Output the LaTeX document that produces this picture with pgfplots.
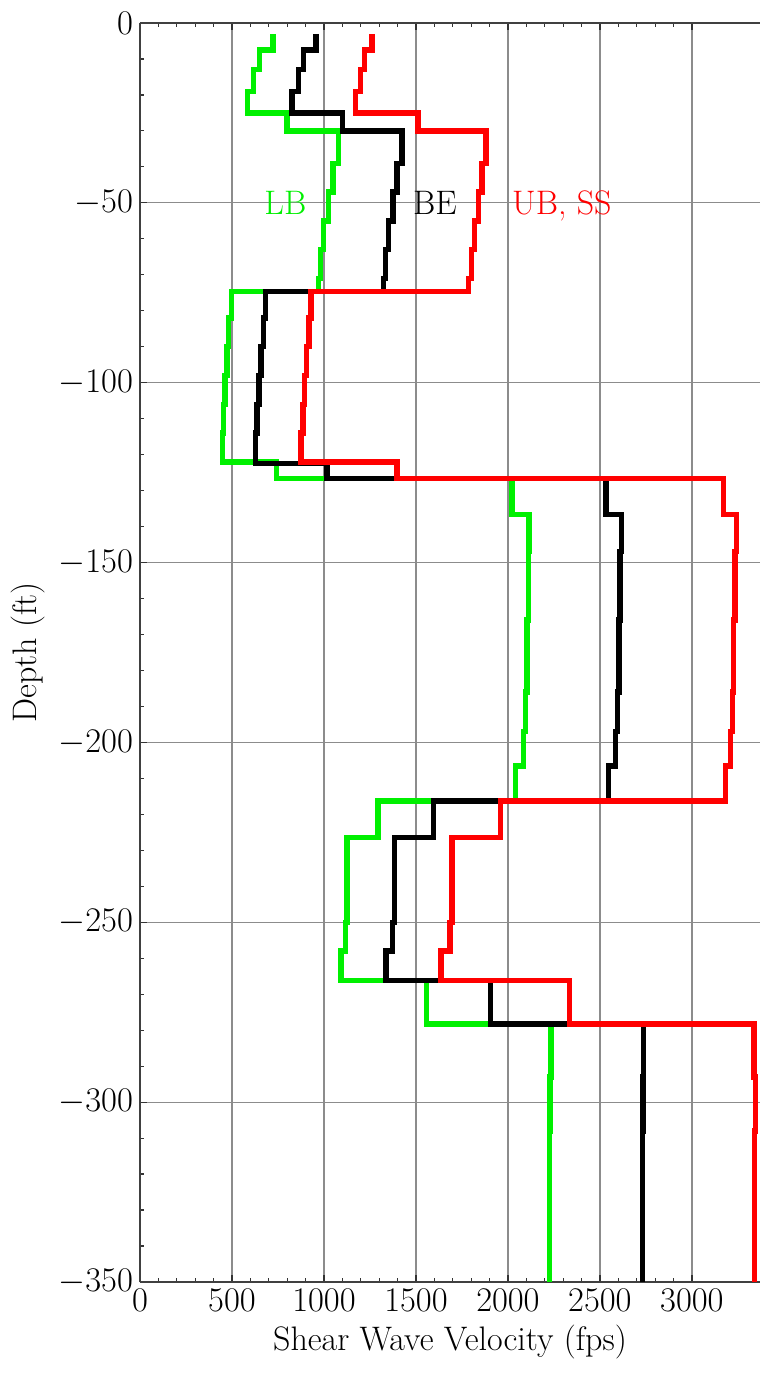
\documentclass[border=0pt]{standalone}
\usepackage{pgfplots}
\pgfplotsset{compat=1.18}
\definecolor{lbgreen}{RGB}{0,240,0}
\definecolor{ubred}{RGB}{255,0,0}
\definecolor{gridgray}{RGB}{140,140,140}
\begin{document}
\begin{tikzpicture}
\begin{axis}[
  scale only axis, width=310pt, height=629.5pt,
  xmin=0, xmax=3370, ymin=-350, ymax=0,
  axis x line*=box, axis y line*=left,
  xtick={0,500,...,3000}, ytick={-350,-300,...,0},
  minor x tick num=4, minor y tick num=4,
  tick align=inside,
  major tick length=3.5pt, minor tick length=2.2pt,
  every tick/.style={black!80, line width=0.6pt},
  axis line style={black!75, line width=0.7pt},
  grid=major, major grid style={gridgray, line width=0.6pt},
  x tick label style={/pgf/number format/set thousands separator={}},
  tick label style={font=\fontsize{17}{20}\selectfont},
  label style={font=\fontsize{17}{20}\selectfont},
  xlabel={Shear Wave Velocity (fps)},
  ylabel={Depth (ft)},
  clip=true,
]
\addplot[lbgreen, line width=2.7pt] coordinates {
(723,-3) (723,-7.5) (648,-7.5) (648,-13) (617,-13) (617,-19) (585,-19) (585,-25) (799,-25) (799,-30) (1080,-30) (1080,-39) (1049,-39) (1049,-47) (1025,-47) (1025,-55) (998,-55) (998,-63) (980,-63) (980,-71) (971,-71) (971,-74.7) (496,-74.7) (496,-82) (482,-82) (482,-90) (472,-90) (472,-98) (463,-98) (463,-106) (455,-106) (455,-114) (447,-114) (447,-122) (741,-122) (741,-126.7) (2022,-126.7) (2022,-136.7) (2115,-136.7) (2115,-147) (2112,-147) (2112,-166) (2103,-166) (2103,-186) (2096,-186) (2096,-197) (2085,-197) (2085,-206.6) (2040,-206.6) (2040,-216.3) (1293,-216.3) (1293,-226.5) (1125,-226.5) (1125,-250) (1118,-250) (1118,-258) (1092,-258) (1092,-266.2) (1556,-266.2) (1556,-278.3) (2233,-278.3) (2233,-293) (2229,-293) (2229,-308) (2225,-308) (2225,-350)
};
\addplot[black, line width=2.7pt] coordinates {
(956,-3) (956,-7.5) (889,-7.5) (889,-13) (862,-13) (862,-19) (826,-19) (826,-25) (1101,-25) (1101,-30) (1424,-30) (1424,-39) (1397,-39) (1397,-47) (1375,-47) (1375,-55) (1351,-55) (1351,-63) (1333,-63) (1333,-71) (1324,-71) (1324,-74.7) (681,-74.7) (681,-82) (670,-82) (670,-90) (658,-90) (658,-98) (647,-98) (647,-106) (637,-106) (637,-114) (627,-114) (627,-122.5) (1016,-122.5) (1016,-126.7) (2532,-126.7) (2532,-136.7) (2616,-136.7) (2616,-147) (2610,-147) (2610,-166) (2603,-166) (2603,-186) (2596,-186) (2596,-197) (2583,-197) (2583,-206.6) (2547,-206.6) (2547,-216.3) (1596,-216.3) (1596,-226.5) (1384,-226.5) (1384,-250) (1372,-250) (1372,-258) (1337,-258) (1337,-266.2) (1904,-266.2) (1904,-278.3) (2738,-278.3) (2738,-293) (2735,-293) (2735,-308) (2732,-308) (2732,-350)
};
\addplot[ubred, line width=2.7pt] coordinates {
(1261,-3) (1261,-7.5) (1219,-7.5) (1219,-13) (1197,-13) (1197,-19) (1170,-19) (1170,-25) (1511,-25) (1511,-30) (1880,-30) (1880,-39) (1859,-39) (1859,-47) (1840,-47) (1840,-55) (1819,-55) (1819,-63) (1801,-63) (1801,-71) (1786,-71) (1786,-74.7) (929,-74.7) (929,-82) (918,-82) (918,-90) (905,-90) (905,-98) (895,-98) (895,-106) (885,-106) (885,-114) (875,-114) (875,-122) (1397,-122) (1397,-126.7) (3172,-126.7) (3172,-136.7) (3241,-136.7) (3241,-147) (3235,-147) (3235,-166) (3226,-166) (3226,-186) (3221,-186) (3221,-197) (3208,-197) (3208,-206.6) (3181,-206.6) (3181,-216.3) (1958,-216.3) (1958,-226.5) (1696,-226.5) (1696,-250) (1684,-250) (1684,-258) (1636,-258) (1636,-266.2) (2335,-266.2) (2335,-278.3) (3338,-278.3) (3338,-293) (3346,-293) (3346,-308) (3340,-308) (3340,-350)
};
\node[text=lbgreen, font=\fontsize{17}{20}\selectfont, text depth=0pt] at (axis cs:790,-50) {LB};
\node[text=black, font=\fontsize{17}{20}\selectfont, text depth=0pt] at (axis cs:1603,-50) {BE};
\node[text=ubred, font=\fontsize{17}{20}\selectfont, text depth=0pt] at (axis cs:2293,-50) {UB, SS};
\coordinate (bl) at (rel axis cs:0,0);
\coordinate (tr) at (rel axis cs:1,1);
\end{axis}
\pgfresetboundingbox
\path[use as bounding box] ([xshift=-70pt,yshift=-48pt]bl) rectangle ([yshift=11.5pt]tr);
\end{tikzpicture}
\end{document}
